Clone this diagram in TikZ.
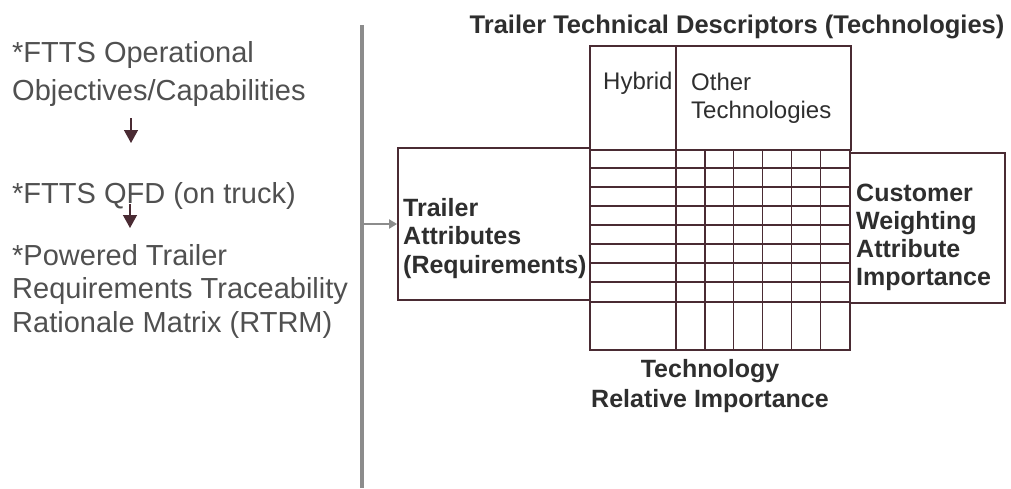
\documentclass[tikz,border=0pt]{standalone}
\usepackage{fontspec}
\setmainfont{Liberation Sans}
\usetikzlibrary{arrows.meta, positioning, calc}
\definecolor{framecol}{HTML}{4A2B33}
\definecolor{textcol}{HTML}{2E2E2E}
\definecolor{leftcol}{HTML}{505050}
\definecolor{sepcol}{HTML}{8C8C8C}
\tikzset{
    box/.style={draw=framecol, line width=1.8pt, inner sep=0pt, rectangle},
    gridline/.style={draw=framecol, line width=1.4pt},
    lefttext/.style={text=leftcol, inner sep=0pt, align=left, anchor=base west,
      font=\fontsize{29}{#1}\selectfont},
    boldtext/.style={text=textcol, inner sep=0pt, font=\fontsize{25}{#1}\selectfont\bfseries},
    plaintext/.style={text=textcol, inner sep=0pt, align=left, anchor=base west,
      font=\fontsize{24}{28}\selectfont},
    flowarrow/.style={draw=framecol, line width=1.3pt, -{Triangle[length=13pt, width=14pt]}},
    sidearrow/.style={draw=sepcol, line width=2.4pt, -{Triangle[length=8pt, width=9pt]}},
}
\begin{document}
\begin{tikzpicture}[x=1pt, y=-1pt]
    \useasboundingbox (0,0) rectangle (1011,488);

    % left column (base = last line)
    \node[lefttext=38] (ops) at (12,100) {*FTTS Operational\\Objectives/Capabilities};
    \node[lefttext=34] (qfd) at (12,203) {*FTTS QFD (on truck)};
    \node[lefttext=33.5] (rtrm) at (12,332) {*Powered Trailer\\Requirements Traceability\\Rationale Matrix (RTRM)};
    \coordinate (a1) at (131,118);
    \coordinate (a2) at (130,204);
    \draw[flowarrow] (a1) -- ++(0,25);
    \draw[flowarrow] (a2) -- ++(0,24);

    % separator
    \coordinate (septop) at (362,25);
    \coordinate (sepbot) at (362,488);
    \draw[draw=sepcol, line width=4pt] (septop) -- (sepbot);

    % house of quality
    \node[box, minimum width=261, minimum height=104] (techbox) at (720.5,98) {};
    \node[box, minimum width=192, minimum height=152] (attr) at (494,224) {};
    \node[box, minimum width=260, minimum height=152] (grid) at (720,226) {};
    \node[box, minimum width=155, minimum height=150] (weight) at (927.5,228) {};
    \node[box, minimum width=260, minimum height=48] (relimp) at (720,326) {};

    \draw[gridline] ($(techbox.north west)+(87,0)$) -- ($(relimp.south west)+(87,0)$);
    \foreach \k in {1,...,5}
      \draw[gridline] ($(grid.north west)+(87+\k*28.83,0)$) -- ($(relimp.south west)+(87+\k*28.83,0)$);
    \foreach \k in {1,...,7}
      \draw[gridline] ($(grid.north west)+(0,\k*19)$) -- ($(grid.north east)+(0,\k*19)$);

    \draw[sidearrow] (attr.west -| septop) ++(2,0) -- (attr.west);

    % labels
    \node[boldtext=29, font=\fontsize{25.5}{29}\selectfont\bfseries, anchor=base] (title) at (737,33) {Trailer Technical Descriptors (Technologies)};
    \node[plaintext] (hybrid) at (603,89) {Hybrid};
    \node[plaintext] (other) at (691,118) {Other\\Technologies};
    \node[boldtext=28.5, align=left, anchor=base west] (attrtext) at (403,273) {Trailer\\Attributes\\(Requirements)};
    \node[boldtext=27.7, align=left, anchor=base west] (weighttext) at (856,285) {Customer\\Weighting\\Attribute\\Importance};
    \node[boldtext=30, align=center, anchor=base] (reltext) at (710,407) {Technology\\Relative Importance};
\end{tikzpicture}
\end{document}
